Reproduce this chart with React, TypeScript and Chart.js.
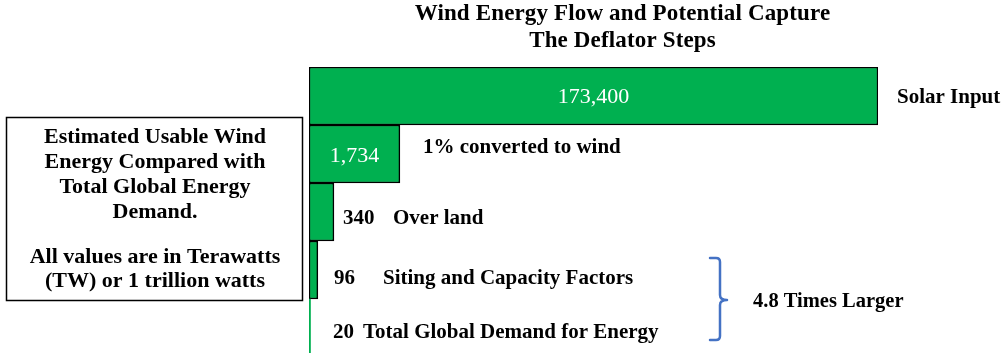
import { useEffect, useRef } from "react";
import { Chart, registerables } from "chart.js";

Chart.register(...registerables);

// ---- Data ----
const categories = [
  "Solar Input",
  "1% converted to wind",
  "Over land",
  "Siting and Capacity Factors",
  "Total Global Demand for Energy",
];
// Values written on the chart, in terawatts
const valuesTW = [173400, 1734, 340, 96, 20];
// Bar lengths as drawn in the reference (the original bars are not to scale)
const drawnLengths = [173400, 27700, 7600, 2700, 450];
const axisMax = 173400;

const titleLines = ["Wind Energy Flow and Potential Capture", "The Deflator Steps"];
const noteLines = [
  "Estimated Usable Wind",
  "Energy Compared with",
  "Total Global Energy",
  "Demand.",
  "",
  "All values are in Terawatts",
  "(TW) or 1 trillion watts",
];
const braceLabel = "4.8 Times Larger";

// ---- Layout / style constants ----
const W = 1007;
const H = 357;
const GREEN = "#00B050";
const BLUE = "#4472C4";
const SERIF = '"Liberation Serif", "Times New Roman", serif';
const valueInside = [true, true, false, false, false];
const valueOutsideX = [0, 0, 343, 334, 333];
const descX = [897, 423, 393, 383, 363];
const baselineOffset = [7, -1, 12, 14, 10];
const insideOffset = [7, 8, 0, 0, 0];

const overlayPlugin = {
  id: "overlay",
  afterDraw(chart: any) {
    const ctx: CanvasRenderingContext2D = chart.ctx;
    const meta = chart.getDatasetMeta(0);
    ctx.save();
    const anyCtx = ctx as any;

    // Title
    anyCtx.letterSpacing = "0.15px";
    ctx.fillStyle = "#000";
    ctx.textAlign = "center";
    ctx.textBaseline = "alphabetic";
    ctx.font = `bold 23px ${SERIF}`;
    ctx.fillText(titleLines[0], 622.5, 20);
    ctx.fillText(titleLines[1], 622.5, 47);

    // Bar labels
    meta.data.forEach((bar: any, i: number) => {
      const cy = bar.y;
      const label = valuesTW[i].toLocaleString("en-US");
      if (valueInside[i]) {
        anyCtx.letterSpacing = "0px";
        ctx.font = `22px ${SERIF}`;
        ctx.fillStyle = "#fff";
        ctx.textAlign = "center";
        ctx.fillText(label, (bar.base + bar.x) / 2, cy + insideOffset[i]);
      } else {
        anyCtx.letterSpacing = "0px";
        ctx.font = `bold 21px ${SERIF}`;
        ctx.fillStyle = "#000";
        ctx.textAlign = "left";
        ctx.fillText(label, valueOutsideX[i], cy + baselineOffset[i]);
      }
      anyCtx.letterSpacing = "0px";
      ctx.font = `bold 21px ${SERIF}`;
      ctx.fillStyle = "#000";
      ctx.textAlign = "left";
      ctx.fillText(categories[i], descX[i], cy + baselineOffset[i]);
    });

    // Note box
    ctx.strokeStyle = "#000";
    ctx.lineWidth = 1.5;
    ctx.strokeRect(6.5, 117.5, 296, 183);
    anyCtx.letterSpacing = "0px";
    ctx.font = `bold 22px ${SERIF}`;
    ctx.fillStyle = "#000";
    ctx.textAlign = "center";
    const noteBase = [143, 168, 193, 218, 0, 263, 287];
    noteLines.forEach((t, i) => {
      if (t) ctx.fillText(t, 155, noteBase[i]);
    });

    // Brace
    ctx.strokeStyle = BLUE;
    ctx.lineWidth = 2.5;
    ctx.lineCap = "round";
    ctx.lineJoin = "round";
    ctx.beginPath();
    ctx.moveTo(710, 258);
    ctx.lineTo(716, 258);
    ctx.quadraticCurveTo(720, 258, 720, 262);
    ctx.lineTo(720, 295);
    ctx.quadraticCurveTo(720, 300, 727, 300);
    ctx.quadraticCurveTo(720, 300, 720, 305);
    ctx.lineTo(720, 336);
    ctx.quadraticCurveTo(720, 340, 716, 340);
    ctx.lineTo(710, 340);
    ctx.stroke();

    anyCtx.letterSpacing = "0px";
    ctx.font = `bold 20.5px ${SERIF}`;
    ctx.fillStyle = "#000";
    ctx.textAlign = "left";
    ctx.fillText(braceLabel, 753, 307);

    ctx.restore();
  },
};

export default function App() {
  const canvasRef = useRef<HTMLCanvasElement | null>(null);

  useEffect(() => {
    const canvas = canvasRef.current;
    if (!canvas) return;
    const chart = new Chart(canvas, {
      type: "bar",
      data: {
        labels: categories,
        datasets: [
          {
            data: drawnLengths,
            backgroundColor: GREEN,
            borderColor: "#000",
            borderWidth: [1.5, 1.5, 1.5, 1.5, 0],
            borderSkipped: false,
            barPercentage: 1,
            categoryPercentage: 1,
          },
        ],
      },
      options: {
        indexAxis: "y",
        responsive: false,
        animation: false,
        devicePixelRatio: 1,
        layout: { padding: { left: 309, right: W - 878, top: 67, bottom: 0 } },
        plugins: {
          legend: { display: false },
          title: { display: false },
          tooltip: { enabled: false },
        },
        scales: {
          x: { display: false, min: 0, max: axisMax, grid: { display: false } },
          y: { display: false, grid: { display: false } },
        },
      },
      plugins: [overlayPlugin],
    } as any);
    return () => chart.destroy();
  }, []);

  return (
    <div
      style={{
        position: "fixed",
        left: 0,
        top: 0,
        width: W,
        height: 353,
        overflow: "hidden",
        background: "#fff",
      }}
    >
      <canvas ref={canvasRef} width={W} height={H} style={{ display: "block" }} />
    </div>
  );
}
